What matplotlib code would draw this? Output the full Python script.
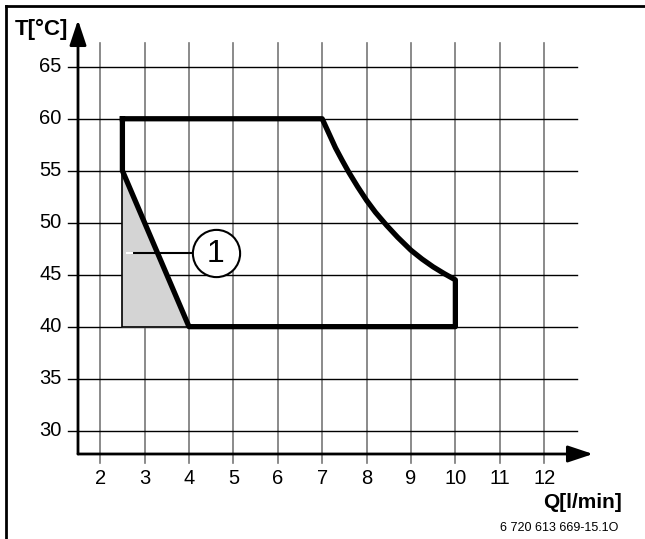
import matplotlib
matplotlib.use("Agg")
import matplotlib.pyplot as plt
from matplotlib.lines import Line2D

plt.rcParams['font.family'] = ['Liberation Sans', 'DejaVu Sans']

# Data
x_ticks = [2, 3, 4, 5, 6, 7, 8, 9, 10, 11, 12]
y_ticks = [30, 35, 40, 45, 50, 55, 60, 65]

# Outer operating range boundary (Q [l/min], T [°C])
top_q = [2.5, 7.0]
top_t = [60, 60]
curve_q = [7.0, 7.15, 7.3, 7.45, 7.6, 7.8, 8.0, 8.2, 8.45, 8.7, 9.0, 9.25, 9.5, 9.75, 10.0]
curve_t = [60.0, 58.6, 57.2, 56.0, 54.85, 53.45, 52.15, 51.0, 49.75, 48.6, 47.35, 46.5, 45.75, 45.1, 44.5]
right_q = [10.0, 10.0, 4.0]
right_t = [44.5, 40, 40]
diag_q = [4.0, 2.5, 2.5]
diag_t = [40, 55, 60]

# Shaded area 1
area_q = [2.5, 2.5, 4.0]
area_t = [55, 40, 40]

fig = plt.figure(figsize=(6.45, 5.39), dpi=100)
ax = fig.add_axes([78/645, 1-454/539, (593-78)/645, (454-20)/539])
ax.set_xlim(1.5, 13.1)
ax.set_ylim(27.75, 69.5)
ax.axis('off')

# grid
for xv in x_ticks:
    ax.plot([xv, xv], [26.9, 67.3], color='#777777', lw=1.2, clip_on=False, zorder=1)
    ax.text(xv, 25.4, str(xv), ha='center', va='center', fontsize=14.5)
for yv in y_ticks:
    ax.plot([1.28, 12.75], [yv, yv], color='black', lw=1.0, clip_on=False, zorder=1)
    ax.text(1.13, yv, str(yv), ha='right', va='center', fontsize=14.5)

# axes with arrows
arrow_style = dict(arrowstyle='-|>,head_length=0.9,head_width=0.3', lw=2, color='black',
                   mutation_scale=17, shrinkA=0, shrinkB=0)
ax.annotate('', xy=(13.1, 27.75), xytext=(1.5, 27.75), arrowprops=arrow_style,
            annotation_clip=False)
ax.annotate('', xy=(1.5, 69.5), xytext=(1.5, 27.75), arrowprops=arrow_style,
            annotation_clip=False)

# shaded area
ax.fill(area_q, area_t, color='#d4d4d4', zorder=2)
ax.plot(area_q, area_t, color='black', lw=1.2, zorder=3)

# thick boundary
bq = top_q + curve_q[1:] + right_q[1:] + diag_q[1:]
bt = top_t + curve_t[1:] + right_t[1:] + diag_t[1:]
ax.plot(bq, bt, color='black', lw=3.8, solid_joinstyle='round', zorder=4)

# callout
ax.plot([2.72, 4.05], [47.1, 47.1], color='black', lw=1.5, zorder=5)
ax.plot([2.6, 2.72], [47.1, 47.1], color='white', lw=1.5, zorder=5)
ax.plot([4.6], [47.1], marker='o', markersize=34, markerfacecolor='white',
        markeredgecolor='black', markeredgewidth=1.5, zorder=6)
ax.text(4.6, 47.0, '1', ha='center', va='center', fontsize=23, zorder=7)

# labels
fig.text(15/645, 1-29/539, 'T[°C]', ha='left', va='center', fontsize=16, fontweight='bold')
fig.text(622/645, 1-503/539, 'Q[l/min]', ha='right', va='center', fontsize=15, fontweight='bold')
fig.text(618/645, 1-528/539, '6 720 613 669-15.1O', ha='right', va='center', fontsize=9)

# frame
fig.add_artist(Line2D([6/645, 6/645], [0, 1-6/539], color='black', lw=2, transform=fig.transFigure))
fig.add_artist(Line2D([6/645, 1], [1-6/539, 1-6/539], color='black', lw=2, transform=fig.transFigure))

fig.savefig('out.png', dpi=100)
